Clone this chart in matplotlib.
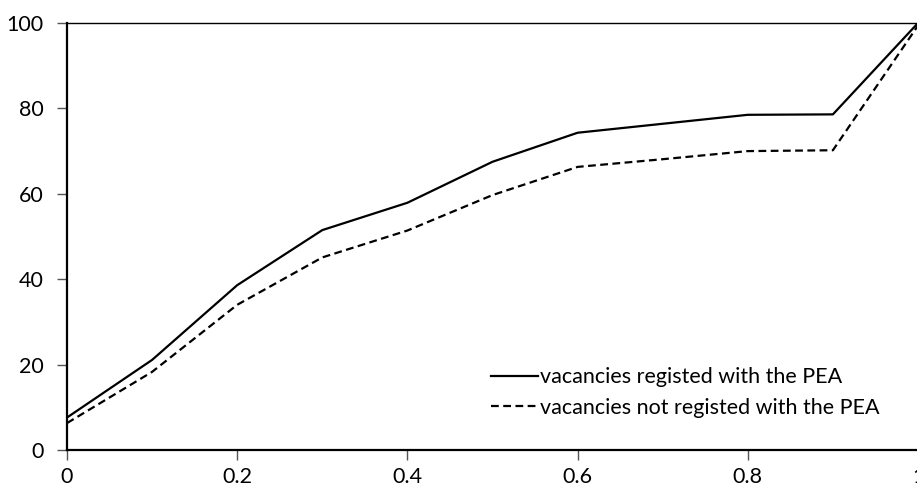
import matplotlib
matplotlib.use("Agg")
from matplotlib import pyplot as plt

plt.rcParams['font.family'] = ['Lato', 'DejaVu Sans']

share = [0, 0.1, 0.2, 0.3, 0.4, 0.5, 0.6, 0.7, 0.8, 0.9, 1.0]
registered = [7.6, 21.1, 38.6, 51.5, 57.9, 67.5, 74.3, 76.4, 78.5, 78.6, 100]
not_registered = [6.3, 18.3, 34.0, 45.1, 51.4, 59.7, 66.3, 68.1, 70.0, 70.2, 99.4]
labels = ['vacancies registed with the PEA', 'vacancies not registed with the PEA']

fig = plt.figure(figsize=(9.17, 4.88), dpi=100)
ax = fig.add_axes([67 / 917, 38 / 488, 851 / 917, 427 / 488])

ax.plot(share, registered, color='black', lw=1.6, label=labels[0])
ax.plot(share, not_registered, color='black', lw=1.6, dashes=(3.5, 2), label=labels[1])

ax.set_xlim(0, 1)
ax.set_ylim(0, 100)
ax.set_xticks([0, 0.2, 0.4, 0.6, 0.8, 1])
ax.set_xticklabels(['0', '0.2', '0.4', '0.6', '0.8', '1'])
ax.set_yticks([0, 20, 40, 60, 80, 100])

for s in ['left', 'bottom']:
    ax.spines[s].set_linewidth(1.6)
ax.spines['top'].set_linewidth(1.0)
ax.spines['right'].set_visible(False)

ax.tick_params(axis='both', labelsize=15.5, length=7, width=1, color='#555555', direction='out')
ax.tick_params(axis='y', pad=10)
ax.tick_params(axis='x', pad=5)

ax.legend(loc='lower right', bbox_to_anchor=(0.965, 0.055), frameon=False, fontsize=15.5,
          handlelength=2.2, handletextpad=0.1, labelspacing=0.5, borderaxespad=0)

fig.savefig('out.png', dpi=100)
